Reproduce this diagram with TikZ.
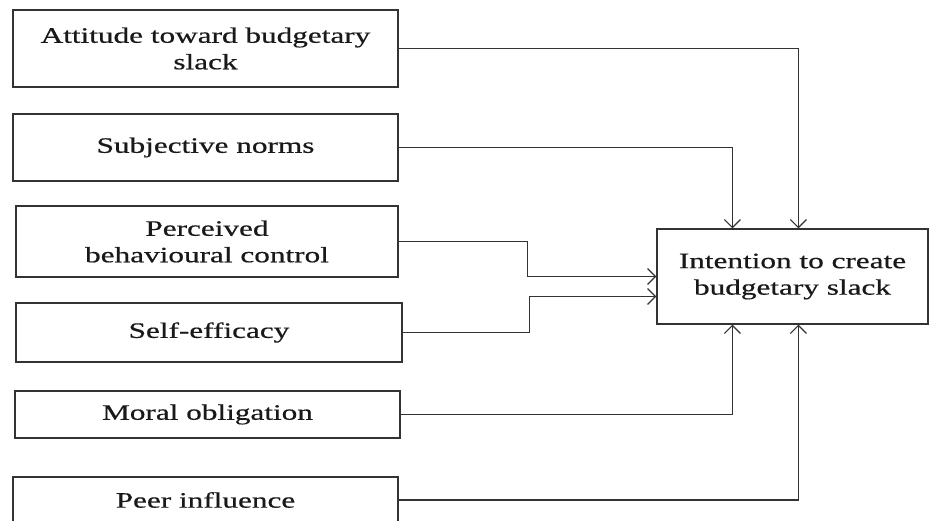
\documentclass[tikz,border=0pt]{standalone}
\usepackage{fontspec}
\usepackage{graphicx}
\setmainfont{Liberation Serif}
\newfontfamily\boxfont[FakeBold=0.5]{Liberation Serif}
\usetikzlibrary{arrows.meta,calc}
\newcommand{\wtxt}[1]{\scalebox{1.42}[1]{#1}}
\definecolor{ln}{HTML}{333333}
\begin{document}
\begin{tikzpicture}[x=1pt,y=-1pt,
  box/.style={draw=ln,line width=1.2pt,rectangle,inner sep=0pt,align=center,
    font=\boxfont\fontsize{22}{26.5}\selectfont,text=black!90},
  arr/.style={draw=ln,line width=1.2pt,-{Straight Barb[length=8pt,width=16pt,line width=1.2pt]}}]
\useasboundingbox (0,0) rectangle (929,521);
\node[box,minimum width=385pt,minimum height=77pt] (att) at (205.5,48.5) {\wtxt{Attitude toward budgetary}\\\wtxt{slack}};
\node[box,minimum width=385pt,minimum height=67pt] (sub) at (205.5,147.5) {\wtxt{Subjective norms}};
\node[box,minimum width=382pt,minimum height=71pt] (per) at (207,241.5) {\wtxt{Perceived}\\\wtxt{behavioural control}};
\node[box,minimum width=386pt,minimum height=59pt] (sel) at (209,332.5) {\wtxt{Self-efficacy}};
\node[box,minimum width=385pt,minimum height=47pt] (mor) at (207.5,414.5) {\wtxt{Moral obligation}};
\node[box,minimum width=385pt,minimum height=46pt] (peer) at (205.5,500) {\wtxt{Peer influence}};
\node[box,minimum width=271pt,minimum height=95pt] (int) at (792.5,276.5) {\wtxt{Intention to create}\\\wtxt{budgetary slack}};
\draw[arr] (att.east) -| ([xshift=142pt]int.north west);
\draw[arr] (sub.east) -| ([xshift=76pt]int.north west);
\draw[arr] (per.east) -- ++(129,0) |- (int.west);
\draw[arr] (sel.east) -- ++(127,0) |- ($(int.west)+(0,20)$);
\draw[arr] (mor.east) -| ([xshift=76pt]int.south west);
\draw[arr] (peer.east) -| ([xshift=142pt]int.south west);
\end{tikzpicture}
\end{document}
